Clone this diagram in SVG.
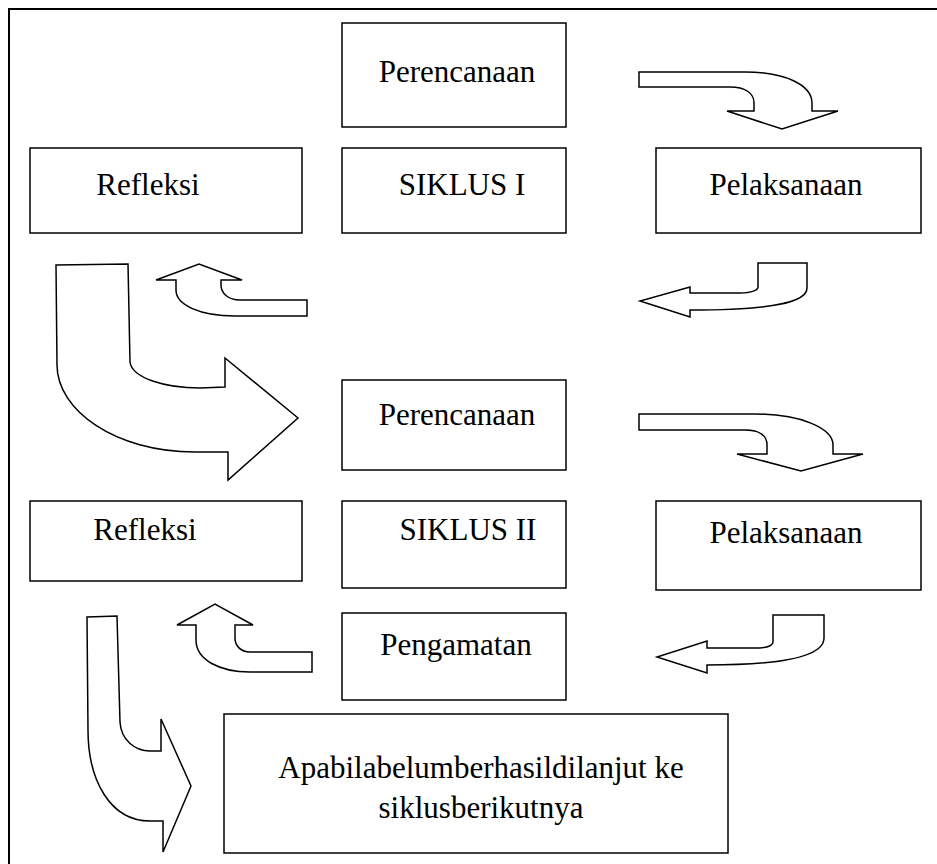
<svg xmlns="http://www.w3.org/2000/svg" width="937" height="864" viewBox="0 0 937 864">
<style>
.box{fill:#fff;stroke:#000;stroke-width:1.5}
.arr{fill:#fff;stroke:#000;stroke-width:1.5;stroke-linejoin:miter}
.t{font-family:"Liberation Serif","Times New Roman",serif;font-size:31px;fill:#000;text-anchor:middle}
</style>
<rect x="0" y="0" width="937" height="864" fill="#fff"/>
<rect id="frame" x="9" y="9" width="940" height="870" fill="none" stroke="#000" stroke-width="2"/>
<g id="connectors">
<path class="arr" d="M639,72 L745,72 C785,72 812,85 812,103 L812,111 L838,111 L782,129 L727,111 L754,111 L754,103 C754,93 745,87 730,87 L639,87 Z"/>
<path class="arr" d="M758,263 L807,263 L807,288 C807,303 770,310 690,310 L690,317 L640,301 L690,287 L690,293 L740,293 C752,293 758,290 758,287 Z"/>
<path class="arr" d="M307,300 L240,300 C228,300 221,293 221,285 L221,280 L242,280 L199,264 L156,280 L176,280 L176,290 C176,305 200,316 235,316 L307,316 Z"/>
<path class="arr" d="M56,265 L128,264 L130,362 C132,378 165,388 200,388 L225,387 L225,358 L298,418 L228,480 L228,452 L195,452 C115,452 57,410 57,365 Z"/>
<path class="arr" d="M639,414 L755,414 C800,414 833,428 833,445 L833,454 L863,454 L801,471 L737,454 L767,454 L767,445 C767,436 760,430 745,430 L639,430 Z"/>
<path class="arr" d="M773,615 L824,615 L824,638 C824,655 790,665 707,665 L707,673 L657,657 L707,641 L707,648 L755,648 C768,648 773,645 773,642 Z"/>
<path class="arr" d="M312,652 L250,652 C240,652 235,645 235,638 L235,625 L253,625 L215,604 L177,625 L196,625 L196,640 C196,660 220,672 250,672 L312,672 Z"/>
<path class="arr" d="M87,617 L117,616 L120,722 C121,740 135,751 150,751 L161,751 L161,719 L191,786 L163,852 L163,821 L150,821 C110,821 88,780 88,730 Z"/>
</g>
<g id="perencanaan1"><rect class="box" x="342" y="23" width="224" height="104"/><text class="t" x="457" y="82">Perencanaan</text></g>
<g id="refleksi1"><rect class="box" x="30" y="148" width="272" height="85"/><text class="t" x="148" y="195">Refleksi</text></g>
<g id="siklus1"><rect class="box" x="342" y="148" width="224" height="85"/><text class="t" x="462" y="195">SIKLUS I</text></g>
<g id="pelaksanaan1"><rect class="box" x="656" y="148" width="265" height="85"/><text class="t" x="786" y="195">Pelaksanaan</text></g>
<g id="perencanaan2"><rect class="box" x="342" y="380" width="224" height="90"/><text class="t" x="457" y="425">Perencanaan</text></g>
<g id="refleksi2"><rect class="box" x="30" y="501" width="272" height="80"/><text class="t" x="145" y="540">Refleksi</text></g>
<g id="siklus2"><rect class="box" x="342" y="501" width="224" height="87"/><text class="t" x="468" y="540">SIKLUS II</text></g>
<g id="pelaksanaan2"><rect class="box" x="656" y="501" width="265" height="89"/><text class="t" x="786" y="543">Pelaksanaan</text></g>
<g id="pengamatan"><rect class="box" x="342" y="613" width="224" height="87"/><text class="t" x="456" y="655">Pengamatan</text></g>
<g id="lanjut"><rect class="box" x="224" y="714" width="504" height="139"/><text class="t" x="481" y="778">Apabilabelumberhasildilanjut ke</text><text class="t" x="481" y="818">siklusberikutnya</text></g>
</svg>
